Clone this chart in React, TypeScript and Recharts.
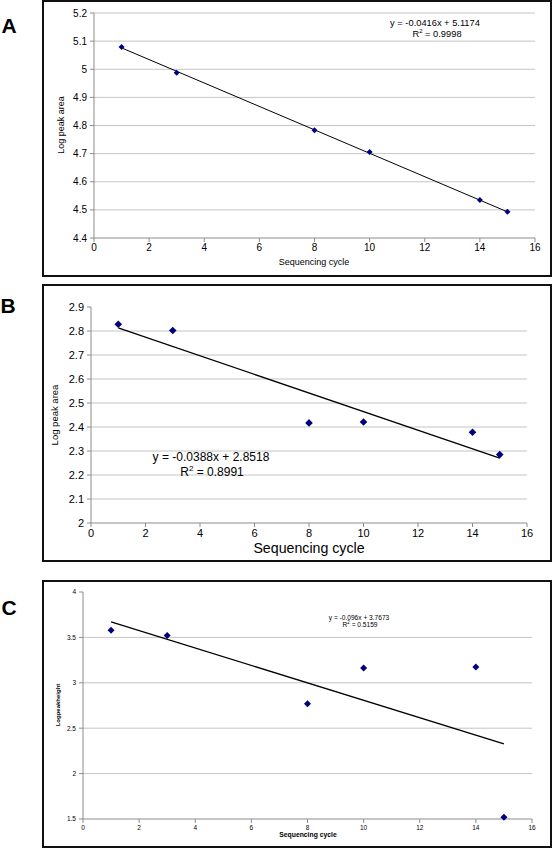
import React from "react"
import {
  ScatterChart,
  Scatter,
  XAxis,
  YAxis,
  CartesianGrid,
} from "recharts"

const cycles = [1, 3, 8, 10, 14, 15]
const peakAreaA = [5.079, 4.988, 4.783, 4.706, 4.535, 4.493]
const peakAreaB = [2.828, 2.802, 2.417, 2.421, 2.378, 2.285]
const peakHeightC = [3.579, 3.52, 2.77, 3.162, 3.173, 1.518]

const trendX = [1, 15]
const trendA = [5.076, 4.493]
const trendB = [2.813, 2.27]
const trendC = [3.671, 2.327]

const xTicks = [0, 2, 4, 6, 8, 10, 12, 14, 16]
const yTicksA = [4.4, 4.5, 4.6, 4.7, 4.8, 4.9, 5, 5.1, 5.2]
const yTicksB = [2, 2.1, 2.2, 2.3, 2.4, 2.5, 2.6, 2.7, 2.8, 2.9]
const yTicksC = [1.5, 2, 2.5, 3, 3.5, 4]

const FONT = "'Liberation Sans', Arial, sans-serif"
const W = 558

const toPoints = (xs: number[], ys: number[]) => xs.map((x, i) => ({ x, y: ys[i] }))

const diamond = (r: number) => (props: any) => {
  const { cx, cy } = props
  if (cx == null || cy == null) return <g />
  return (
    <polygon
      points={`${cx},${cy - r} ${cx + r},${cy} ${cx},${cy + r} ${cx - r},${cy}`}
      fill="#00007f"
    />
  )
}

const fmt = (v: number) => String(Number(v.toFixed(1)))

interface PanelProps {
  chartTop: number
  chartHeight: number
  plot: { left: number; right: number; top: number; bottom: number }
  ys: number[]
  trend: number[]
  yTicks: number[]
  tickFont: number
  markerR: number
  lineWidth: number
  gridValues: number[]
}

function Panel(p: PanelProps) {
  const yAxisW = 40
  const xAxisH = 24
  const margin = {
    top: p.plot.top - p.chartTop,
    left: p.plot.left - yAxisW,
    right: W - p.plot.right,
    bottom: p.chartTop + p.chartHeight - p.plot.bottom - xAxisH,
  }
  const tick = { fill: "#000", fontSize: p.tickFont, fontFamily: FONT }
  return (
    <div style={{ position: "absolute", left: 0, top: p.chartTop }}>
      <ScatterChart width={W} height={p.chartHeight} margin={margin}>
        <CartesianGrid
          vertical={false}
          stroke="#c4c4c4"
          horizontalValues={p.gridValues}
        />
        <XAxis
          type="number"
          dataKey="x"
          domain={[0, 16]}
          ticks={xTicks}
          interval={0}
          height={xAxisH}
          tick={tick}
          tickSize={4}
          tickMargin={2}
          stroke="#8c8c8c"
        />
        <YAxis
          type="number"
          dataKey="y"
          domain={[p.yTicks[0], p.yTicks[p.yTicks.length - 1]]}
          ticks={p.yTicks}
          interval={0}
          width={yAxisW}
          tick={tick}
          tickFormatter={fmt}
          tickSize={4}
          tickMargin={3}
          stroke="#8c8c8c"
        />
        <Scatter
          data={toPoints(trendX, p.trend)}
          line={{ stroke: "#000", strokeWidth: p.lineWidth }}
          shape={() => <g />}
          isAnimationActive={false}
        />
        <Scatter
          data={toPoints(cycles, p.ys)}
          shape={diamond(p.markerR)}
          isAnimationActive={false}
        />
      </ScatterChart>
    </div>
  )
}

const abs = (x: number, y: number, style: React.CSSProperties, rotate = false): React.CSSProperties => ({
  position: "absolute",
  left: x,
  top: y,
  transform: `translate(-50%, -50%)${rotate ? " rotate(-90deg)" : ""}`,
  whiteSpace: "nowrap",
  fontFamily: FONT,
  lineHeight: 1,
  color: "#000",
  ...style,
})

const box = (top: number, height: number): React.CSSProperties => ({
  position: "absolute",
  left: 42,
  top,
  width: 510,
  height,
  boxSizing: "border-box",
  border: "2px solid #111",
})

export default function App() {
  return (
    <div style={{ position: "absolute", left: 0, top: 0, width: W, height: 853, background: "#fff" }}>
      {/* panel A */}
      <div style={box(0, 277)} />
      <Panel
        chartTop={2}
        chartHeight={273}
        plot={{ left: 94, right: 535, top: 13, bottom: 238 }}
        ys={peakAreaA}
        trend={trendA}
        yTicks={yTicksA}
        tickFont={10}
        markerR={3}
        lineWidth={1}
        gridValues={yTicksA.slice(1)}
      />
      <div style={abs(9, 25, { fontSize: 21, fontWeight: "bold" })}>A</div>
      <div style={abs(314, 262, { fontSize: 9 })}>Sequencing cycle</div>
      <div style={abs(61, 125, { fontSize: 9 }, true)}>Log peak area</div>
      <div style={abs(435, 24, { fontSize: 9.3 })}>y = -0.0416x + 5.1174</div>
      <div style={abs(437, 34, { fontSize: 9.3 })}>
        R<sup style={{ fontSize: 6 }}>2</sup> = 0.9998
      </div>

      {/* panel B */}
      <div style={box(284, 278)} />
      <Panel
        chartTop={286}
        chartHeight={274}
        plot={{ left: 91, right: 527, top: 307, bottom: 523 }}
        ys={peakAreaB}
        trend={trendB}
        yTicks={yTicksB}
        tickFont={11}
        markerR={3.8}
        lineWidth={1.3}
        gridValues={yTicksB.slice(1, -1)}
      />
      <div style={abs(8, 305, { fontSize: 21, fontWeight: "bold" })}>B</div>
      <div style={abs(309, 548, { fontSize: 14.2 })}>Sequencing cycle</div>
      <div style={abs(55, 415, { fontSize: 9.5 }, true)}>Log peak area</div>
      <div style={abs(211, 457, { fontSize: 12 })}>y = -0.0388x + 2.8518</div>
      <div style={abs(212, 471, { fontSize: 12 })}>
        R<sup style={{ fontSize: 8 }}>2</sup> = 0.8991
      </div>

      {/* panel C */}
      <div style={box(580, 268)} />
      <Panel
        chartTop={582}
        chartHeight={264}
        plot={{ left: 83, right: 532, top: 592, bottom: 819 }}
        ys={peakHeightC}
        trend={trendC}
        yTicks={yTicksC}
        tickFont={6.5}
        markerR={3.5}
        lineWidth={1.3}
        gridValues={yTicksC.slice(1, -1)}
      />
      <div style={abs(9, 607, { fontSize: 21, fontWeight: "bold" })}>C</div>
      <div style={abs(308, 835, { fontSize: 6.8, fontWeight: "bold" })}>Sequencing cycle</div>
      <div style={abs(58, 705, { fontSize: 6, fontWeight: "bold" }, true)}>Logpeakheight</div>
      <div style={abs(359, 618, { fontSize: 6.6 })}>y = -0.096x + 3.7673</div>
      <div style={abs(360, 625, { fontSize: 6.6 })}>
        R<sup style={{ fontSize: 4.5 }}>2</sup> = 0.5159
      </div>
    </div>
  )
}
